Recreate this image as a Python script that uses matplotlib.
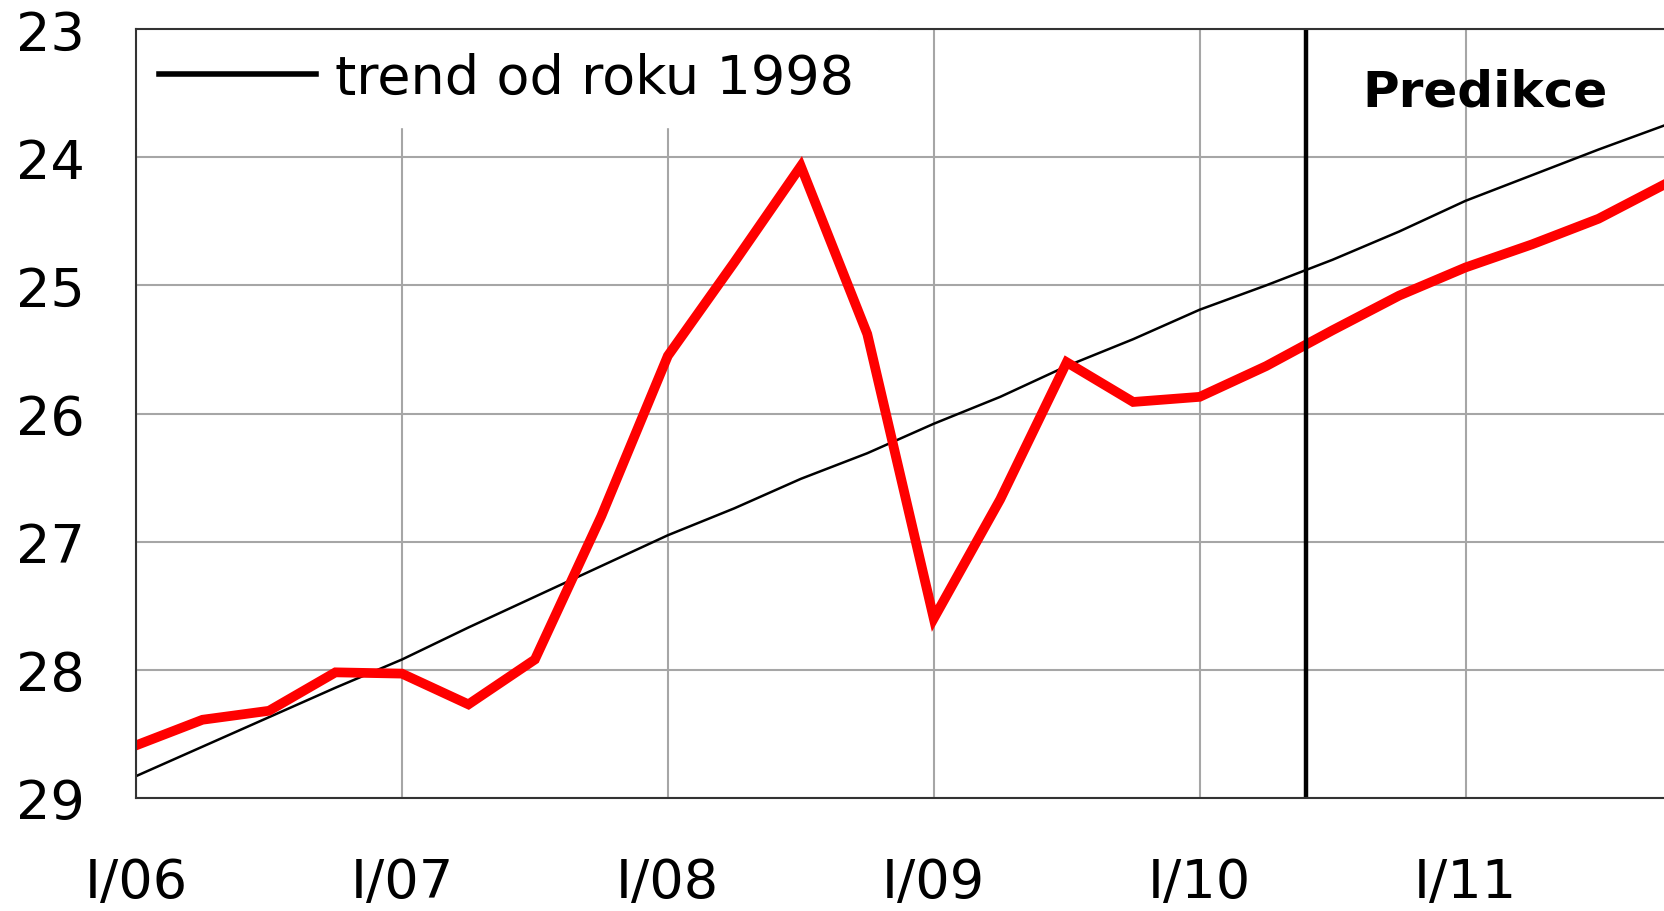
import matplotlib
matplotlib.use('Agg')
import matplotlib.pyplot as plt
from matplotlib.lines import Line2D

# quarters from I/06 to IV/11
quarters = list(range(24))
year_ticks = [0, 4, 8, 12, 16, 20]
year_labels = ['I/06', 'I/07', 'I/08', 'I/09', 'I/10', 'I/11']

actual = [28.59, 28.39, 28.32, 28.02, 28.03, 28.27, 27.92, 26.80,
          25.55, 24.82, 24.07, 25.38, 27.60, 26.67, 25.60, 25.91,
          25.87, 25.63, 25.35, 25.08, 24.86, 24.68, 24.48, 24.21]
trend = [28.83, 28.60, 28.37, 28.14, 27.92, 27.67, 27.43, 27.19,
         26.95, 26.74, 26.51, 26.31, 26.08, 25.87, 25.63, 25.42,
         25.19, 25.00, 24.80, 24.58, 24.34, 24.14, 23.94, 23.75]
prediction_start = 17.6

plt.rcParams['font.family'] = ['DejaVu Sans']
fs = 39

fig = plt.figure(figsize=(16.65, 9.12), dpi=100)
ax = fig.add_axes([0.0817, 0.124, 0.9183, 0.843])

ax.plot(quarters, trend, color='black', lw=1.8, zorder=3)
ax.plot(quarters, actual, color='#ff0000', lw=7, zorder=4, solid_joinstyle='miter')
ax.axvline(prediction_start, color='black', lw=3.2, zorder=5)

ax.set_xlim(0, 23)
ax.set_ylim(29, 23)
ax.set_yticks(range(23, 30))
ax.set_xticks(year_ticks)
ax.set_xticklabels(year_labels)
ax.tick_params(axis='both', length=0, labelsize=fs)
ax.tick_params(axis='y', pad=37)
ax.tick_params(axis='x', pad=42)
ax.grid(True, color='#a6a6a6', lw=1.5)
ax.set_axisbelow(True)
for s in ['top', 'left', 'bottom']:
    ax.spines[s].set_color('#333333')
    ax.spines[s].set_linewidth(1.5)
    ax.spines[s].set_zorder(6)
ax.spines['right'].set_visible(False)

ax.text(18.45, 23.49, 'Predikce', fontsize=36, fontweight='bold',
        va='center', ha='left', zorder=6)

handle = Line2D([], [], color='black', lw=4)
leg = ax.legend([handle], ['trend od roku 1998'], loc='upper left',
                fontsize=fs, handlelength=2.9, handletextpad=0.35,
                borderaxespad=0.0, borderpad=0.42, frameon=True,
                fancybox=False, framealpha=1.0)
leg.get_frame().set_edgecolor('white')
leg.set_zorder(2)

fig.savefig('out.png', dpi=100)
